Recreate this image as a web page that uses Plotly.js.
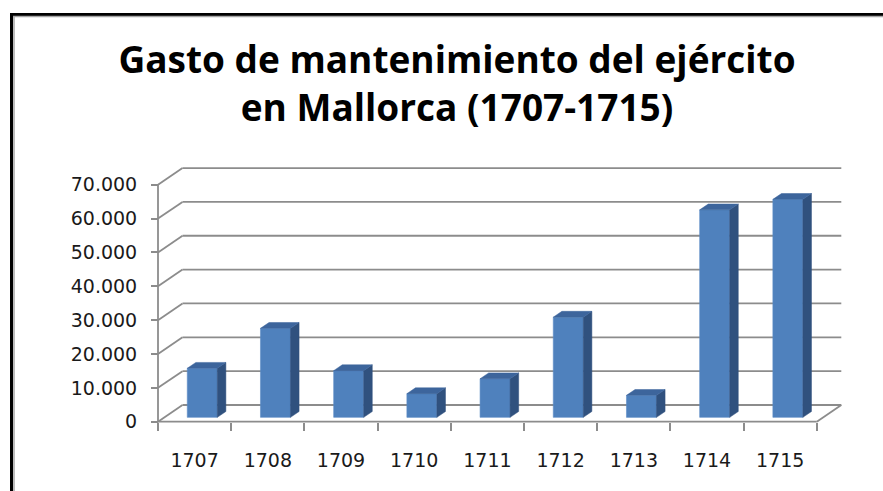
<!DOCTYPE html>
<html>
<head>
<meta charset="utf-8">
<script src="https://cdn.plot.ly/plotly-3.0.1.min.js"></script>
<style>html,body{margin:0;padding:0;background:#fff;}#chart{width:883px;height:491px;}</style>
</head>
<body>
<div id="chart"></div>
<script>
// ---- data ----
const years = ['1707','1708','1709','1710','1711','1712','1713','1714','1715'];
const values = [14500, 26300, 13800, 7000, 11400, 29600, 6500, 61300, 64400];
const yTickVals = [0, 10000, 20000, 30000, 40000, 50000, 60000, 70000];
const yTickText = ['0', '10.000', '20.000', '30.000', '40.000', '50.000', '60.000', '70.000'];

// ---- layout geometry (pixels) ----
const W = 883, H = 491;
const L = 150, R = 33, T = 150, B = 61;
const plotW = W - L - R, plotH = H - T - B;
const originPx = {x: 158, y: 421.7};
const pxPerCat = 73.2, pxPerVal = 33.85 / 10000;
const xMin = -(originPx.x - L) / pxPerCat, xMax = (L + plotW - originPx.x) / pxPerCat;
const yMin = -(T + plotH - originPx.y) / pxPerVal, yMax = (originPx.y - T) / pxPerVal;
// oblique depth vector (full depth of floor)
const DX = 24.5 / pxPerCat, DY = 16.7 / pxPerVal;
const t0 = 0.26, t1 = 0.61;          // bar front / back depth fraction
const barOff = 0.313, barW = 0.41;   // bar position within category
const nCat = years.length;

const pX = px => (px - L) / plotW;
const pY = py => (T + plotH - py) / plotH;

const grid = {color: '#8c8c8c', width: 1.8};
const shapes = [];
function seg(x0, y0, x1, y1, line, ref) {
  shapes.push({type: 'line', xref: ref || 'x', yref: ref || 'y', x0, y0, x1, y1, line, layer: 'below'});
}
yTickVals.forEach(v => {
  seg(0, v, DX, v + DY, grid);
  seg(DX, v + DY, nCat + DX, v + DY, grid);
});
seg(0, 0, nCat, 0, grid);
seg(nCat, 0, nCat + DX, DY, grid);
seg(0, 0, 0, yTickVals[yTickVals.length - 1], grid);

// frame
shapes.push({type: 'line', xref: 'paper', yref: 'paper', x0: pX(11.5), y0: pY(13), x1: pX(11.5), y1: pY(495), line: {color: '#000', width: 3}, layer: 'above'});
shapes.push({type: 'line', xref: 'paper', yref: 'paper', x0: pX(10), y0: pY(14.5), x1: pX(890), y1: pY(14.5), line: {color: '#000', width: 3}, layer: 'above'});
shapes.push({type: 'line', xref: 'paper', yref: 'paper', x0: pX(14), y0: pY(16), x1: pX(14), y1: pY(495), line: {color: '#a6a6a6', width: 1.5}, layer: 'above'});
shapes.push({type: 'line', xref: 'paper', yref: 'paper', x0: pX(13), y0: pY(16.6), x1: pX(890), y1: pY(16.6), line: {color: '#a6a6a6', width: 1.5}, layer: 'above'});

// ---- traces ----
const frontFace = {
  type: 'bar',
  x: values.map((v, i) => i + barOff + barW / 2 + t0 * DX),
  y: values,
  base: values.map(() => t0 * DY),
  width: values.map(() => barW),
  marker: {color: '#4f81bd', line: {color: '#5b8cc6', width: 0.6}},
  hoverinfo: 'skip'
};
const sideX = [], sideY = [], topX = [], topY = [];
values.forEach((v, i) => {
  const xl = i + barOff, xr = xl + barW;
  sideX.push(xr + t0 * DX, xr + t1 * DX, xr + t1 * DX, xr + t0 * DX, xr + t0 * DX, null);
  sideY.push(t0 * DY, t1 * DY, v + t1 * DY, v + t0 * DY, t0 * DY, null);
  topX.push(xl + t0 * DX, xr + t0 * DX, xr + t1 * DX, xl + t1 * DX, xl + t0 * DX, null);
  topY.push(v + t0 * DY, v + t0 * DY, v + t1 * DY, v + t1 * DY, v + t0 * DY, null);
});
const sideFace = {type: 'scatter', mode: 'lines', x: sideX, y: sideY, fill: 'toself', fillcolor: '#30517e', line: {color: '#30517e', width: 0.5}, hoverinfo: 'skip'};
const topFace = {type: 'scatter', mode: 'lines', x: topX, y: topY, fill: 'toself', fillcolor: '#3d659c', line: {color: '#3d659c', width: 0.5}, hoverinfo: 'skip'};

const tickFont = {family: 'DejaVu Sans, Verdana, sans-serif', size: 19, color: '#1a1a1a'};
const layout = {
  width: W, height: H,
  margin: {l: L, r: R, t: T, b: B, pad: 0},
  paper_bgcolor: '#fff', plot_bgcolor: '#fff',
  showlegend: false,
  hovermode: false,
  title: {
    text: 'Gasto de mantenimiento del ejército<br>en Mallorca (1707-1715)',
    font: {family: 'Open Sans, sans-serif', size: 37, color: '#000', weight: 'bold'},
    xref: 'container', yref: 'container', x: 457 / W, y: 1 - 73 / H,
    xanchor: 'center', yanchor: 'middle'
  },
  xaxis: {
    range: [xMin, xMax], anchor: 'free', position: pY(originPx.y),
    showgrid: false, zeroline: false, showline: false,
    tickmode: 'array', tickvals: years.map((y, i) => i + 0.5), ticktext: years,
    ticks: '', tickfont: tickFont, ticklabelstandoff: 25,
    minor: {tickmode: 'array', tickvals: years.map((y, i) => i).concat([nCat]), ticks: 'outside', ticklen: 8, tickcolor: '#8c8c8c', tickwidth: 2, showgrid: false},
    fixedrange: true
  },
  yaxis: {
    range: [yMin, yMax], anchor: 'free', position: pX(originPx.x),
    showgrid: false, zeroline: false, showline: false,
    tickmode: 'array', tickvals: yTickVals, ticktext: yTickText,
    ticks: 'outside', ticklen: 7, tickcolor: '#8c8c8c', tickwidth: 2,
    tickfont: tickFont, ticklabelstandoff: 10,
    fixedrange: true
  },
  shapes: shapes,
  bargap: 0
};
Plotly.newPlot('chart', [frontFace, sideFace, topFace], layout, {displayModeBar: false, staticPlot: true});
</script>
</body>
</html>
